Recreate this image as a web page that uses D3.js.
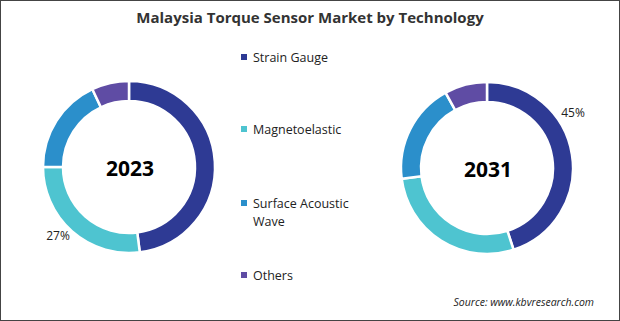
<!DOCTYPE html>
<html>
<head>
<meta charset="utf-8">
<script src="https://cdn.jsdelivr.net/npm/d3@7"></script>
<style>
  body { margin: 0; background: #fff; }
  svg { display: block; }
</style>
</head>
<body>
<div id="chart"></div>
<script>
var W = 620, H = 321;

var categories = ["Strain Gauge", "Magnetoelastic", "Surface Acoustic Wave", "Others"];
var legendLines = [["Strain Gauge"], ["Magnetoelastic"], ["Surface Acoustic", "Wave"], ["Others"]];
var years = ["2023", "2031"];
var values2023 = [48, 27, 18, 7];
var values2031 = [45, 28, 19, 8];
var colors = ["#2e3a94", "#4ec4d0", "#2b8fcb", "#5f4ca4"];
// which slice gets a % label in each donut
var labelIdx = [1, 0];

var svg = d3.select("#chart").append("svg")
    .attr("width", W)
    .attr("height", H);

svg.append("rect")
    .attr("x", 0.5).attr("y", 0.5)
    .attr("width", W - 1).attr("height", H - 1)
    .attr("fill", "#fff")
    .attr("stroke", "#444");

svg.append("text")
    .attr("x", 310).attr("y", 23)
    .attr("text-anchor", "middle")
    .attr("font-family", "'Open Sans', sans-serif")
    .attr("font-weight", "bold")
    .attr("font-size", "15px")
    .attr("fill", "#333")
    .text("Malaysia Torque Sensor Market by Technology");

var color = d3.scaleOrdinal().domain(categories).range(colors);
var pie = d3.pie().sort(null);
var outerR = 86, innerR = 66;
var arc = d3.arc().innerRadius(innerR).outerRadius(outerR);
var centers = [[129, 167], [487, 168]];
var allValues = [values2023, values2031];

allValues.forEach(function(vals, k) {
    var g = svg.append("g")
        .attr("transform", "translate(" + centers[k][0] + "," + centers[k][1] + ")");
    var arcs = pie(vals);
    g.selectAll("path")
        .data(arcs)
        .enter()
        .append("path")
        .attr("d", arc)
        .attr("fill", function(d, i) { return color(categories[i]); })
        .attr("stroke", "#fff")
        .attr("stroke-width", 2.5);

    g.append("text")
        .attr("x", 1).attr("y", 1)
        .attr("text-anchor", "middle")
        .attr("dominant-baseline", "central")
        .attr("font-family", "'Open Sans', sans-serif")
        .attr("font-weight", "bold")
        .attr("font-size", "21px")
        .attr("fill", "#000")
        .text(years[k]);

    // percentage label placed just outside the ring
    var a = arcs[labelIdx[k]];
    var mid = (a.startAngle + a.endAngle) / 2;
    var lr = outerR + 4;
    var lx, ly;
    if (k == 0) {
        lx = -71; ly = 68;
    } else {
        lx = 86; ly = -56;
    }
    g.append("text")
        .attr("x", lx).attr("y", ly)
        .attr("text-anchor", "middle")
        .attr("dominant-baseline", "central")
        .attr("font-family", "'Open Sans', sans-serif")
        .attr("font-size", "12px")
        .attr("fill", "#222")
        .text(Math.round(vals[labelIdx[k]]) + "%");
});

var legendY = [57, 129, 203, 275];
var lg = svg.append("g");
legendLines.forEach(function(lines, i) {
    lg.append("rect")
        .attr("x", 241).attr("y", legendY[i] - 3)
        .attr("width", 6).attr("height", 6)
        .attr("fill", colors[i]);
    lines.forEach(function(t, j) {
        lg.append("text")
            .attr("x", 253).attr("y", legendY[i] + j * 18)
            .attr("dominant-baseline", "central")
            .attr("font-family", "'Open Sans', sans-serif")
            .attr("font-size", "12.5px")
            .attr("fill", "#222")
            .text(t);
    });
});

svg.append("text")
    .attr("x", 594).attr("y", 302)
    .attr("text-anchor", "end")
    .attr("dominant-baseline", "central")
    .attr("font-family", "'Open Sans', sans-serif")
    .attr("font-style", "italic")
    .attr("font-size", "10.5px")
    .attr("fill", "#222")
    .text("Source: www.kbvresearch.com");
</script>
</body>
</html>
